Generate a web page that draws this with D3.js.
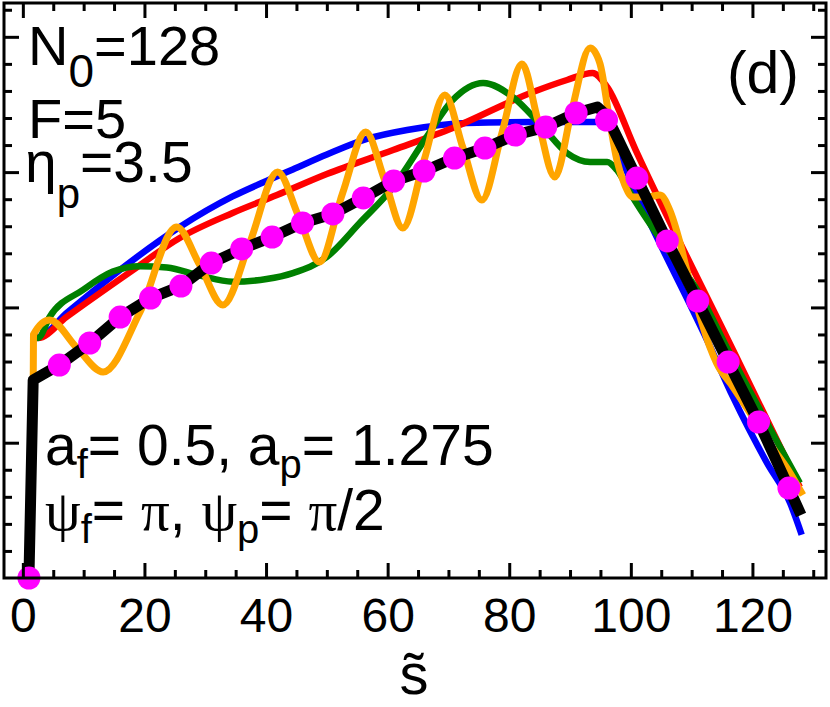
<!DOCTYPE html>
<html>
<head>
<meta charset="utf-8">
<script src="https://cdn.jsdelivr.net/npm/d3@7"></script>
<style>
body { margin: 0; background: #fff; }
text { font-family: "Liberation Sans", Arial, Helvetica, sans-serif; fill: #000; }
.greek { font-family: "Liberation Serif", "DejaVu Serif", serif; }
</style>
</head>
<body>
<div id="chart-area"></div>
<script>
// values (s on x, arbitrary units on y, 1 unit = one major y tick)
var xMajor = [0, 20, 40, 60, 80, 100, 120];
var xMinor = [5, 10, 15, 25, 30, 35, 45, 50, 55, 65, 70, 75, 85, 90, 95, 105, 110, 115, 125, 130];
var yMajor = [1, 2, 3, 4];
var yMinor = [0.2, 0.4, 0.6, 0.8, 1.2, 1.4, 1.6, 1.8, 2.2, 2.4, 2.6, 2.8, 3.2, 3.4, 3.6, 3.8, 4.2];

var sDots = [1, 6, 11, 16, 21, 26, 31, 36, 41, 46, 51, 56, 61, 66, 71, 76, 81, 86, 91, 96, 101, 106, 111, 116, 121, 126];
var vDots = [0, 1.574, 1.737, 1.929, 2.069, 2.158, 2.328, 2.432, 2.520, 2.624, 2.691, 2.809, 2.934, 3.008, 3.104, 3.178, 3.274, 3.333, 3.437, 3.385, 2.956, 2.491, 2.047, 1.596, 1.153, 0.665];

var sBlack = [1, 1.7, 6, 11, 16, 21, 26, 31, 36, 41, 46, 51, 56, 61, 66, 71, 76, 81, 86, 91, 94.5, 96, 101, 106, 111, 116, 121, 126, 128];
var vBlack = [0, 1.463, 1.574, 1.737, 1.929, 2.069, 2.158, 2.328, 2.432, 2.520, 2.624, 2.691, 2.809, 2.934, 3.008, 3.104, 3.178, 3.274, 3.333, 3.437, 3.481, 3.42, 2.956, 2.491, 2.047, 1.596, 1.153, 0.665, 0.466];

var sBlue = [1.7, 2.5, 7.2, 18.1, 25.8, 34.5, 40.6, 44.4, 50.0, 56.6, 63.2, 73.0, 83.9, 90, 96.1, 97.9, 113.3, 116.8, 122.4, 126.2, 128.1];
var vBlue = [1.79, 1.781, 1.959, 2.350, 2.594, 2.82, 2.945, 3.02, 3.13, 3.245, 3.311, 3.363, 3.370, 3.370, 3.370, 3.163, 1.685, 1.338, 0.850, 0.554, 0.320];

var sRed = [1.7, 2.5, 7.2, 18.1, 25.8, 34.5, 41.8, 50.0, 60.9, 70.7, 83.9, 89.5, 93.7, 96.1, 100.8, 116.8, 127.8];
var vRed = [1.79, 1.774, 1.93, 2.276, 2.513, 2.698, 2.831, 2.986, 3.163, 3.326, 3.592, 3.681, 3.733, 3.629, 3.163, 1.685, 0.672];

var sGreen = [1.7, 2.5, 4.4, 9.9, 14.8, 19.2, 23.7, 29.1, 34.5, 40.1, 44.4, 50.0, 55.4, 60.9, 66.4, 70.7, 75.7, 80.6, 85.5, 89.5, 93.3, 96.1, 97.7, 100.3, 105.3, 111.3, 116.0, 127.8];
var vGreen = [1.79, 1.774, 1.93, 2.13, 2.265, 2.305, 2.295, 2.235, 2.19, 2.210, 2.254, 2.373, 2.624, 2.890, 3.259, 3.533, 3.659, 3.555, 3.333, 3.141, 3.075, 3.075, 3.016, 2.816, 2.476, 2.099, 1.685, 0.702];

var sOrange = [1.7, 1.75, 4.4, 8.9, 13.2, 19.2, 25.3, 29.1, 32.9, 37.3, 41.9, 45.4, 48.8, 52.6, 56.4, 59.5, 62.5, 66.0, 69.4, 72.4, 75.5, 78.8, 82.1, 84.7, 87.5, 90.3, 93.3, 94.9, 96.5, 97.7, 99.0, 100.3, 102.6, 104.8, 106.4, 108.1, 109.2, 110.9, 113.0, 114.1, 116.8, 119.6, 122.4, 126.2, 128.3];
var vOrange = [1.40, 1.80, 1.907, 1.70, 1.523, 1.959, 2.594, 2.313, 2.018, 2.476, 3.001, 2.668, 2.336, 2.846, 3.296, 2.942, 2.587, 3.089, 3.570, 3.178, 2.794, 3.289, 3.799, 3.385, 2.964, 3.459, 3.917, 3.806, 3.385, 3.089, 2.905, 2.816, 2.816, 2.831, 2.720, 2.476, 2.276, 2.003, 1.707, 1.589, 1.412, 1.220, 1.020, 0.776, 0.613];

var W = 830, H = 707;
var box = {left: 4, right: 826, top: 3, bottom: 578};

var svg = d3.select("#chart-area").append("svg")
    .attr("width", W)
    .attr("height", H);

var x = d3.scaleLinear().domain([-3.1, 132.1]).range([box.left, box.right]);
var y = d3.scaleLinear().domain([0, 4.25]).range([box.bottom, box.top]);

function pairs(s, v) {
    return s.map(function(d, i) { return [d, v[i]]; });
}

// curves
var smooth = d3.line()
    .x(function(d) { return x(d[0]); })
    .y(function(d) { return y(d[1]); })
    .curve(d3.curveMonotoneX);
var straight = d3.line()
    .x(function(d) { return x(d[0]); })
    .y(function(d) { return y(d[1]); });

var series = [
    {s: sBlue, v: vBlue, color: "#0000ff", w: 6.5, line: smooth},
    {s: sRed, v: vRed, color: "#ff0000", w: 6.5, line: smooth},
    {s: sGreen, v: vGreen, color: "#008000", w: 6.5, line: smooth},
    {s: sOrange, v: vOrange, color: "#ffa500", w: 7, line: smooth},
    {s: sBlack, v: vBlack, color: "#000000", w: 11, line: straight}
];

series.forEach(function(d) {
    svg.append("path")
        .attr("d", d.line(pairs(d.s, d.v)))
        .attr("fill", "none")
        .attr("stroke", d.color)
        .attr("stroke-width", d.w)
        .attr("stroke-linejoin", "round");
});

svg.selectAll("circle.dot")
    .data(pairs(sDots, vDots))
    .enter()
    .append("circle")
        .attr("class", "dot")
        .attr("cx", function(d) { return x(d[0]); })
        .attr("cy", function(d) { return y(d[1]); })
        .attr("r", 11.5)
        .attr("fill", "#ff00ff");

// axes, ticks pointing inward on all four sides
function addAxis(axis, tx, ty, labels) {
    var g = svg.append("g").attr("transform", "translate(" + tx + "," + ty + ")").call(axis);
    g.select(".domain").remove();
    g.selectAll("line").attr("stroke", "#000").attr("stroke-width", 3);
    if (!labels) g.selectAll("text").remove();
    return g;
}

var fmt = function(d) { return d; };
var bottom = addAxis(d3.axisBottom(x).tickValues(xMajor).tickSize(-15).tickPadding(20).tickFormat(fmt), 0, box.bottom, true);
bottom.selectAll("text")
    .style("font-family", '"Liberation Sans", Arial, sans-serif')
    .style("font-size", "48px");
addAxis(d3.axisBottom(x).tickValues(xMinor).tickSize(-8), 0, box.bottom, false);
addAxis(d3.axisTop(x).tickValues(xMajor).tickSize(-15), 0, box.top, false);
addAxis(d3.axisTop(x).tickValues(xMinor).tickSize(-8), 0, box.top, false);
addAxis(d3.axisLeft(y).tickValues(yMajor).tickSize(-15), box.left, 0, false);
addAxis(d3.axisLeft(y).tickValues(yMinor).tickSize(-8), box.left, 0, false);
addAxis(d3.axisRight(y).tickValues(yMajor).tickSize(-15), box.right, 0, false);
addAxis(d3.axisRight(y).tickValues(yMinor).tickSize(-8), box.right, 0, false);

svg.append("rect")
    .attr("x", box.left)
    .attr("y", box.top)
    .attr("width", box.right - box.left)
    .attr("height", box.bottom - box.top)
    .attr("fill", "none")
    .attr("stroke", "#000")
    .attr("stroke-width", 3);

// annotations
var t1 = svg.append("text").attr("x", 28).attr("y", 65).style("font-size", "56px");
t1.append("tspan").text("N");
t1.append("tspan").attr("dy", 22).style("font-size", "46px").text("0");
t1.append("tspan").attr("dy", -22).text("=128");

svg.append("text").attr("x", 28).attr("y", 138).style("font-size", "56px").text("F=5");

var t3 = svg.append("text").attr("x", 25).attr("y", 182).style("font-size", "57px");
t3.append("tspan").text("\u03b7");
t3.append("tspan").attr("dy", 26).style("font-size", "42px").text("p");
t3.append("tspan").attr("dy", -26).text("=3.5");

svg.append("text").attr("x", 799).attr("y", 93).attr("text-anchor", "end")
    .style("font-size", "59px").text("(d)");

var t5 = svg.append("text").attr("x", 45).attr("y", 465).style("font-size", "57px");
t5.append("tspan").text("a");
t5.append("tspan").attr("dy", 13).style("font-size", "40px").text("f");
t5.append("tspan").attr("dy", -13).text("= 0.5, a");
t5.append("tspan").attr("dy", 13).style("font-size", "40px").text("p");
t5.append("tspan").attr("dy", -13).text("= 1.275");

var t6 = svg.append("text").attr("x", 45).attr("y", 530).style("font-size", "57px");
t6.append("tspan").attr("class", "greek").text("\u03c8");
t6.append("tspan").attr("dy", 13).style("font-size", "40px").text("f");
t6.append("tspan").attr("dy", -13).text("= ");
t6.append("tspan").attr("class", "greek").text("\u03c0");
t6.append("tspan").text(", ");
t6.append("tspan").attr("class", "greek").text("\u03c8");
t6.append("tspan").attr("dy", 13).style("font-size", "40px").text("p");
t6.append("tspan").attr("dy", -13).text("= ");
t6.append("tspan").attr("class", "greek").text("\u03c0");
t6.append("tspan").text("/2");

// x axis title: s with a combining tilde
svg.append("text").attr("x", 414).attr("y", 694).attr("text-anchor", "middle")
    .style("font-size", "58px").text("s\u0303");
</script>
</body>
</html>
